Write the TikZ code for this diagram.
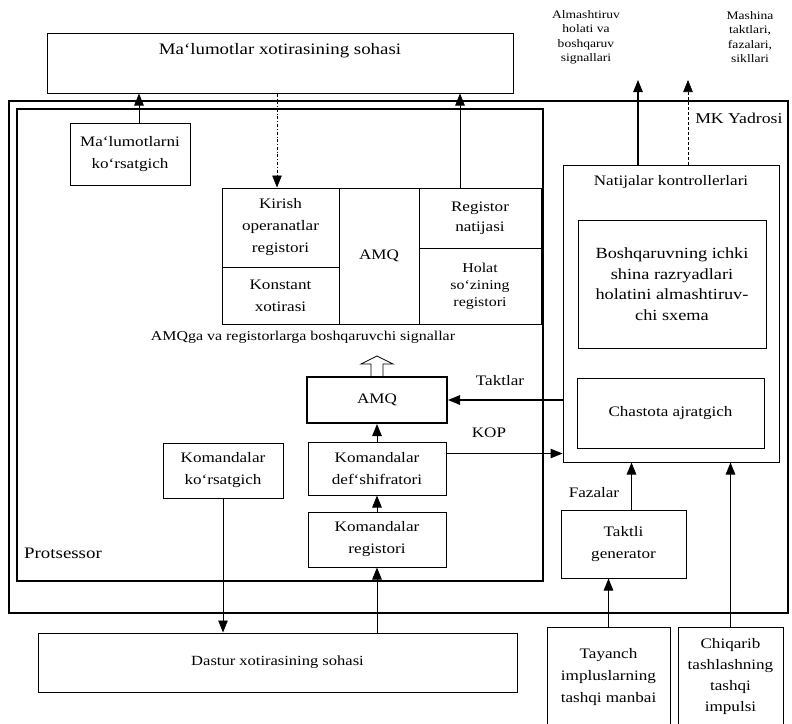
\documentclass[tikz,border=0pt]{standalone}
\usepackage{fontspec}
\setmainfont{Liberation Serif}[FakeStretch=1.18]
\usetikzlibrary{arrows.meta, calc}

\begin{document}
\begin{tikzpicture}[x=1pt, y=-1pt, >={Triangle[length=12pt, width=9.5pt]},
  blok/.style={draw, line width=1pt, align=center, inner sep=0pt},
  matn/.style={font=\fontsize{14.5}{22}\selectfont, align=center},
  strelka/.style={->, line width=1pt}]

  \useasboundingbox (0,0) rectangle (792,723);

  % Xotira sohasi
  \node[blok, minimum width=466pt, minimum height=60pt] (malxot) at (280,63) {};
  \node[font=\fontsize{16}{20}\selectfont] (malxotT) at (280,51) {Ma`lumotlar xotirasining sohasi};
  \node[font=\fontsize{11.5}{14.5}\selectfont, align=center] (almash) at (586,37)
    {Almashtiruv\\holati va\\boshqaruv\\signallari};
  \node[font=\fontsize{11.5}{14.5}\selectfont, align=center] (mashina) at (750,37)
    {Mashina\\taktlari,\\fazalari,\\sikllari};
  \coordinate (almuch) at (638,80);
  \coordinate (mashuch) at (688,80);

  % MK yadrosi va protsessor
  \node[draw, line width=2pt, inner sep=0pt, minimum width=779pt, minimum height=512pt] (mk) at (398.5,357) {};
  \node[font=\fontsize{15}{18}\selectfont, anchor=east] (mkT) at (786,118) {MK Yadrosi};
  \node[draw, line width=1.2pt, inner sep=0pt, minimum width=526pt, minimum height=472pt] (prots) at (280,345) {};
  \node[font=\fontsize{16}{20}\selectfont] (protsT) at (63,553) {Protsessor};

  \node[blok, matn, minimum width=120pt, minimum height=62pt] (malkor) at (130,154) {Ma`lumotlarni\\ko‘rsatgich};

  % Registrlar bloki
  \node[blok, matn, minimum width=117pt, minimum height=79pt] (kirish) at (280.5,227.5) {Kirish\\operanatlar\\registori};
  \node[blok, matn, minimum width=117pt, minimum height=57pt] (konst) at (280.5,295.5) {Konstant\\xotirasi};
  \node[blok, matn, minimum width=80pt, minimum height=136pt] (amqreg) at (379,256) {AMQ};
  \node[blok, font=\fontsize{14.5}{20}\selectfont, minimum width=122pt, minimum height=60pt] (regnat) at (480,218) {Registor\\natijasi};
  \node[blok, font=\fontsize{13.5}{17}\selectfont, minimum width=122pt, minimum height=76pt] (holat) at (480,286) {Holat\\so`zining\\registori};

  \node[font=\fontsize{13.5}{16}\selectfont] (izoh) at (303,337) {AMQga va registorlarga boshqaruvchi signallar};

  % Boshqaruv qurilmasi
  \node[blok, matn, line width=2pt, minimum width=140pt, minimum height=46pt] (amq) at (377,400) {AMQ};
  \node[blok, matn, minimum width=138pt, minimum height=53pt] (defsh) at (377,468.5) {Komandalar\\def`shifratori};
  \node[blok, matn, minimum width=138pt, minimum height=55pt] (registori) at (377,539.5) {Komandalar\\registori};
  \node[blok, matn, minimum width=120pt, minimum height=55pt] (komkor) at (223,470.5) {Komandalar\\ko‘rsatgich};
  \node[blok, font=\fontsize{14}{18}\selectfont, minimum width=479pt, minimum height=59pt] (dastur) at (277.5,662.5) {Dastur xotirasining sohasi};

  \draw[line width=0.8pt] ([xshift=-6pt]amq.north) -- ++(0,-12) -- ++(-10,0) -- ++(16,-8)
    -- ++(16,8) -- ++(-10,0) -- ++(0,12);

  % Natijalar kontrollerlari
  \node[blok, minimum width=216pt, minimum height=297pt] (natija) at (671,313.5) {};
  \node[matn] (natijaT) at (671,182) {Natijalar kontrollerlari};
  \node[blok, font=\fontsize{15.5}{20.5}\selectfont, minimum width=188pt, minimum height=128pt] (boshq) at (672,284)
    {Boshqaruvning ichki\\shina razryadlari\\holatini almashtiruv-\\chi sxema};
  \node[blok, matn, minimum width=187pt, minimum height=70pt] (chast) at (670.5,413) {Chastota ajratgich};
  \node[blok, matn, minimum width=125pt, minimum height=68pt] (taktli) at (623.5,544) {Taktli\\generator};
  \node[blok, matn, minimum width=123pt, minimum height=100pt] (tayanch) at (608.5,677) {Tayanch\\impluslarning\\tashqi manbai};
  \node[blok, font=\fontsize{14.5}{21}\selectfont, minimum width=105pt, minimum height=100pt] (chiqarib) at (730.5,677) {Chiqarib\\tashlashning\\tashqi\\impulsi};

  \node[matn] (taktlar) at (500,381) {Taktlar};
  \node[matn] (kop) at (489,433) {KOP};
  \node[matn] (fazalar) at (594,493) {Fazalar};

  % Ulanishlar
  \draw[strelka] ([xshift=9pt]malkor.north) -- ([xshift=9pt]malkor.north |- malxot.south);
  \draw[->, line width=0.6pt, dash dot] ([xshift=-3.5pt]kirish.north |- malxot.south) -- ([xshift=-3.5pt]kirish.north);
  \draw[strelka, line width=0.7pt] ([xshift=-20pt]regnat.north) -- ([xshift=-20pt]regnat.north |- malxot.south);
  \draw[strelka] (defsh.north) -- (amq.south);
  \draw[strelka] (registori.north) -- (defsh.south);
  \draw[strelka] (registori.south |- dastur.north) -- (registori.south);
  \draw[strelka, line width=0.8pt] (komkor.south) -- (komkor.south |- dastur.north);
  \draw[strelka, line width=1.2pt] (amq.east -| natija.west) -- (amq.east);
  \draw[strelka] ([yshift=15pt]defsh.east) -- ([yshift=15pt]defsh.east -| natija.west);
  \draw[strelka, line width=1.2pt] (natija.north -| almuch) -- (almuch);
  \draw[->, line width=0.6pt, densely dashed] (natija.north -| mashuch) -- (mashuch);
  \draw[strelka] ([xshift=8pt]taktli.north) -- ([xshift=8pt]taktli.north |- natija.south);
  \draw[strelka] (tayanch.north) -- (tayanch.north |- taktli.south);
  \draw[strelka] (chiqarib.north) -- (chiqarib.north |- natija.south);

\end{tikzpicture}
\end{document}
